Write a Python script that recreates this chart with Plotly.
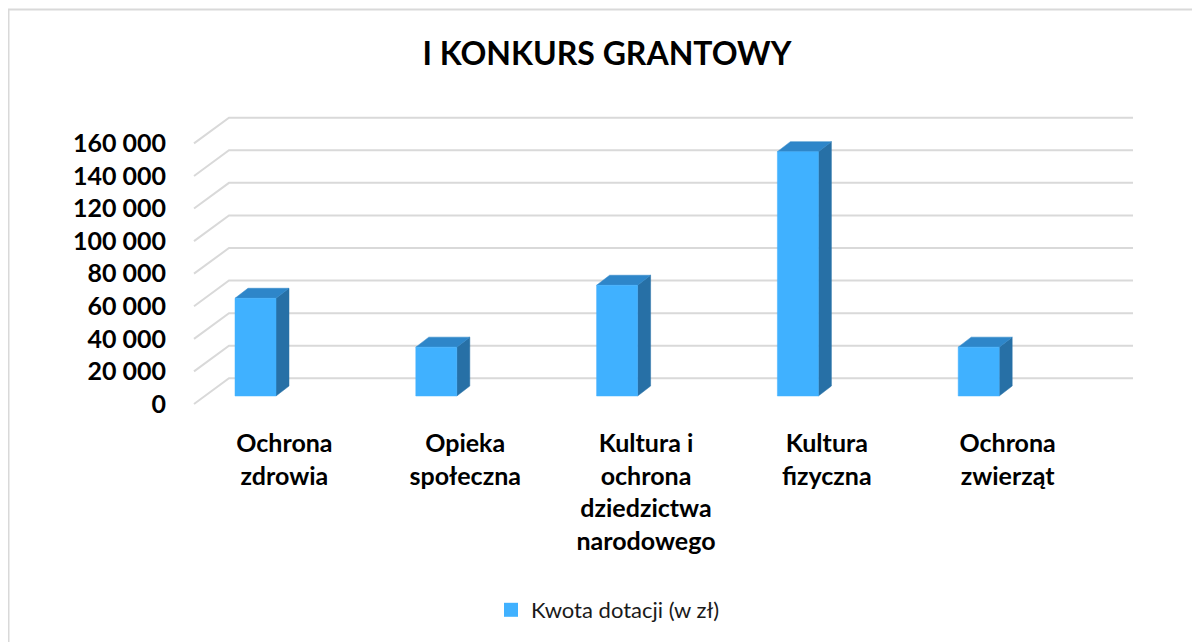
import plotly.graph_objects as go

# ---- data ----
categories = ["Ochrona<br>zdrowia", "Opieka<br>społeczna",
              "Kultura i<br>ochrona<br>dziedzictwa<br>narodowego",
              "Kultura<br>fizyczna", "Ochrona<br>zwierząt"]
values = [60000, 30000, 68000, 150000, 30000]
tick_vals = [0, 20000, 40000, 60000, 80000, 100000, 120000, 140000, 160000]
tick_text = ["0", "20 000", "40 000", "60 000", "80 000", "100 000",
             "120 000", "140 000", "160 000"]
series_name = "Kwota dotacji (w zł)"
title = "I KONKURS GRANTOWY"

# ---- geometry (page-pixel calibration of the pseudo-3D frame) ----
OFF = 8                      # default body margin of the html page
W, H = 1200 - OFF, 642 - OFF
PX_CAT0 = 284.4              # page x of category 0 on the front plane
PX_CAT = 180.8               # pixel width of one category
PX_Y0 = 404.0                # page y of value 0 on the front plane
PX_PER_UNIT = 1.629 / 1000.0
PL, PR, PT, PB = 180, 1140, 110, 412   # plot area box, page pixels

X_RANGE = [(PL - PX_CAT0) / PX_CAT, (PR - PX_CAT0) / PX_CAT]
Y_RANGE = [(PX_Y0 - PB) / PX_PER_UNIT, (PX_Y0 - PT) / PX_PER_UNIT]

DX = 35 / PX_CAT
DY = 25.7 / PX_PER_UNIT
X_FRONT_LEFT = -0.5
X_BACK_RIGHT = (1133 - PX_CAT0) / PX_CAT

BAR_W = 41 / PX_CAT
BAR_OFF = (255.5 - PX_CAT0) / PX_CAT
BAR_BASE = 8 / PX_PER_UNIT
BAR_DX = 13 / PX_CAT
BAR_DY = 10 / PX_PER_UNIT

C_FRONT = "#40b1ff"
C_TOP = "#2e86c9"
C_SIDE = "#2770a6"
C_GRID = "#d9d9d9"
FONT = "Lato"

fig = go.Figure()

for g in tick_vals:
    fig.add_trace(go.Scatter(
        x=[X_FRONT_LEFT, X_FRONT_LEFT + DX, X_BACK_RIGHT],
        y=[g, g + DY, g + DY],
        mode="lines", line=dict(color=C_GRID, width=2),
        hoverinfo="skip", showlegend=False))

for i, v in enumerate(values):
    x0 = i + BAR_OFF - BAR_W / 2
    x1 = x0 + BAR_W
    b = BAR_BASE
    t = v + BAR_BASE
    fig.add_trace(go.Scatter(
        x=[x1, x1 + BAR_DX, x1 + BAR_DX, x1, x1],
        y=[b, b + BAR_DY, t + BAR_DY, t, b],
        fill="toself", fillcolor=C_SIDE, mode="lines",
        line=dict(color=C_SIDE, width=0.5), hoverinfo="skip", showlegend=False))
    fig.add_trace(go.Scatter(
        x=[x0, x1, x1 + BAR_DX, x0 + BAR_DX, x0],
        y=[t, t, t + BAR_DY, t + BAR_DY, t],
        fill="toself", fillcolor=C_TOP, mode="lines",
        line=dict(color=C_TOP, width=0.5), hoverinfo="skip", showlegend=False))
    fig.add_trace(go.Scatter(
        x=[x0, x1, x1, x0, x0],
        y=[b, b, t, t, b],
        fill="toself", fillcolor=C_FRONT, mode="lines",
        line=dict(color=C_FRONT, width=0.5), hoverinfo="skip", showlegend=False))

fig.add_trace(go.Scatter(
    x=[None], y=[None], mode="markers", name=series_name,
    marker=dict(symbol="square", size=14, color=C_FRONT)))


def px_to_paper_x(px):
    return (px - PL) / (PR - PL)


def px_to_paper_y(py):
    return (PB - py) / (PB - PT)


fig.add_shape(type="line", xref="paper", yref="paper",
              x0=px_to_paper_x(OFF), x1=px_to_paper_x(1210),
              y0=px_to_paper_y(9.5), y1=px_to_paper_y(9.5),
              line=dict(color=C_GRID, width=2))
fig.add_shape(type="line", xref="paper", yref="paper",
              x0=px_to_paper_x(OFF + 0.5), x1=px_to_paper_x(OFF + 0.5),
              y0=px_to_paper_y(9.5), y1=px_to_paper_y(660),
              line=dict(color=C_GRID, width=2))

fig.update_layout(
    width=W, height=H,
    margin=dict(l=PL - OFF, r=W - (PR - OFF), t=PT - OFF, b=H - (PB - OFF),
                autoexpand=False),
    paper_bgcolor="white", plot_bgcolor="white",
    title=dict(text=title, x=(607 - OFF) / W, xref="container", xanchor="center",
               y=1 - (53.5 - OFF) / H, yref="container", yanchor="middle",
               font=dict(family=FONT, size=32, color="#000000", weight="bold")),
    showlegend=True,
    legend=dict(orientation="h", xref="container", yref="container",
                x=(491 - OFF) / W, xanchor="left", y=1 - (610 - OFF) / H,
                yanchor="middle",
                font=dict(family=FONT, size=22, color="#1a1a1a"),
                bgcolor="rgba(0,0,0,0)"),
    xaxis=dict(range=X_RANGE, tickmode="array", tickvals=list(range(len(categories))),
               ticktext=categories, showgrid=False, zeroline=False, showline=False,
               ticks="", ticklabelstandoff=14, fixedrange=True,
               tickfont=dict(family=FONT, size=25, color="#000000", weight="bold")),
    yaxis=dict(range=Y_RANGE, tickmode="array", tickvals=tick_vals, ticktext=tick_text,
               showgrid=False, zeroline=False, showline=False, ticks="",
               ticklabelstandoff=13, fixedrange=True,
               tickfont=dict(family=FONT, size=25, color="#000000", weight="bold")),
)

fig.write_html("out.html")
